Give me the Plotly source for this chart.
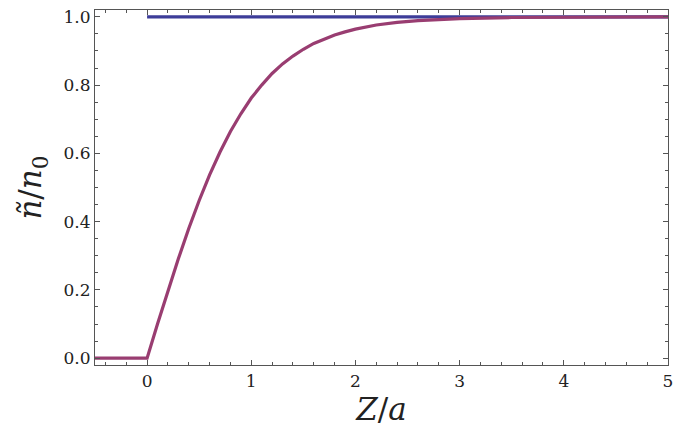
import plotly.graph_objects as go

# data
x_curve = [-0.5, 0.0, 0.1, 0.2, 0.3, 0.4, 0.5, 0.6, 0.7, 0.8, 0.9, 1.0, 1.1, 1.2, 1.3,
           1.4, 1.5, 1.6, 1.7, 1.8, 1.9, 2.0, 2.2, 2.4, 2.6, 2.8, 3.0, 3.5, 4.0, 4.5, 5.0]
y_curve = [0.0, 0.0, 0.100, 0.197, 0.291, 0.380, 0.462, 0.537, 0.604, 0.664, 0.716,
           0.762, 0.800, 0.834, 0.862, 0.885, 0.905, 0.922, 0.935, 0.947, 0.956,
           0.964, 0.976, 0.984, 0.989, 0.993, 0.995, 0.998, 0.999, 1.000, 1.000]
x_flat = [0.0, 5.0]
y_flat = [1.0, 1.0]

x_ticks = [0, 1, 2, 3, 4, 5]
y_ticks = [0.0, 0.2, 0.4, 0.6, 0.8, 1.0]
y_tick_labels = ["0.0", "0.2", "0.4", "0.6", "0.8", "1.0"]

SERIF = "DejaVu Serif"

fig = go.Figure()
fig.add_trace(go.Scatter(x=x_flat, y=y_flat, mode="lines",
                         line=dict(color="#3d3d99", width=3.2), showlegend=False))
fig.add_trace(go.Scatter(x=x_curve, y=y_curve, mode="lines",
                         line=dict(color="#993d71", width=3.2), showlegend=False))

axis_common = dict(showline=True, linecolor="#555555", linewidth=1.2, mirror="allticks",
                   ticks="inside", ticklen=5, tickcolor="#555555", tickwidth=1,
                   showgrid=False, zeroline=False, ticklabeloverflow="allow",
                   tickfont=dict(family=SERIF, size=17, color="#222222"))

fig.update_layout(
    width=684, height=439,
    font=dict(family=SERIF),
    margin=dict(l=87, r=24, t=2, b=82, autoexpand=False),
    paper_bgcolor="white", plot_bgcolor="white",
    xaxis=dict(range=[-0.5, 5], tickvals=x_ticks, ticktext=[str(v) for v in x_ticks],
               minor=dict(dtick=0.2, tick0=0, ticks="inside", ticklen=3, tickcolor="#555555"),
               title=dict(text="<i>Z</i>/<i>a</i>", standoff=8,
                          font=dict(family=SERIF, size=31, color="#222222")),
               **axis_common),
    yaxis=dict(range=[-0.02, 1.02], tickvals=y_ticks, ticktext=y_tick_labels,
               minor=dict(dtick=0.05, tick0=0, ticks="inside", ticklen=3, tickcolor="#555555"),
               title=dict(text="<i>ñ</i>/<i>n</i><sub>0</sub>", standoff=12,
                          font=dict(family=SERIF, size=31, color="#222222")),
               **axis_common),
)

fig.write_html("out.html")
